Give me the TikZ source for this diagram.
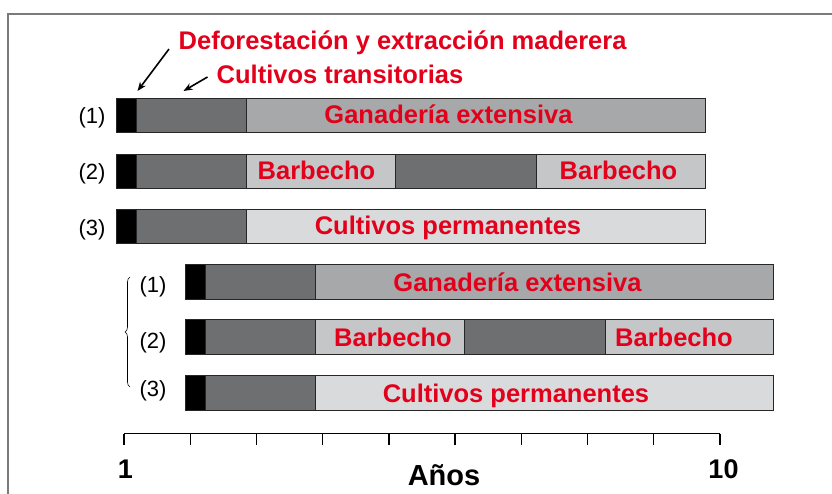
\documentclass[tikz,border=0pt]{standalone}
\usepackage{fontspec}
\setmainfont{Liberation Sans}
\usetikzlibrary{decorations.pathreplacing,arrows.meta}
\definecolor{redtxt}{HTML}{E3001B}
\definecolor{segblack}{HTML}{000000}
\definecolor{segdark}{HTML}{6E6F71}
\definecolor{segganad}{HTML}{A7A8AA}
\definecolor{segbarb}{HTML}{C5C6C8}
\definecolor{segperm}{HTML}{D9DADC}
\definecolor{framegray}{HTML}{7A7A7A}
\tikzset{
  segbox/.style={draw=black!85, line width=0.8pt, inner sep=0pt, outer sep=0pt, anchor=west},
  redlab/.style={text=redtxt, font=\fontsize{25.5}{30}\selectfont\bfseries, inner sep=0pt, anchor=base},
  numlab/.style={font=\fontsize{22}{26}\selectfont, inner sep=0pt, anchor=base},
  axlab/.style={font=\fontsize{27}{32}\selectfont\bfseries, inner sep=0pt, anchor=base},
  pointer/.style={line width=1.6pt, -{Stealth[length=9pt,width=7pt]}},
}
\newcommand\seg[6]{\node[segbox, fill=#6, minimum width=#3pt-#2pt, minimum height=#5pt] (#1) at (#2,#4) {};}
\begin{document}
\begin{tikzpicture}[x=1pt,y=-1pt]
\useasboundingbox (0,0) rectangle (832,494);
% frame
\draw[framegray, line width=2pt] (8,494) -- (8,14) -- (832,14);
% top labels
\node[redlab, anchor=base west] (defo) at (178.5,50) {Deforestación y extracción maderera};
\node[redlab, anchor=base west] (ctrans) at (216.5,83.5) {Cultivos transitorias};
\coordinate (a1s) at (169,49);
\coordinate (a1e) at (137.5,91);
\coordinate (a2s) at (207.5,77);
\coordinate (a2e) at (183.5,91);
\draw[pointer] (a1s) -- (a1e);
\draw[pointer] (a2s) -- (a2e);
% ---- top group ----
\foreach \r/\yc in {1/115,2/171,3/226}{
  \seg{tk\r}{116}{136}{\yc}{34}{segblack}
  \seg{td\r}{136}{246.5}{\yc}{34}{segdark}
}
\seg{tg1}{246.5}{705}{115}{34}{segganad}
\seg{tb2a}{246.5}{395.3}{171}{34}{segbarb}
\seg{tx2}{395.3}{536.7}{171}{34}{segdark}
\seg{tb2b}{536.7}{705}{171}{34}{segbarb}
\seg{tp3}{246.5}{705}{226}{34}{segperm}
\node[redlab] (tgt) at (448.5,124) {Ganadería extensiva};
\node[redlab] (tbt1) at (316.5,180) {Barbecho};
\node[redlab] (tbt2) at (618.5,180) {Barbecho};
\node[redlab] (tpt) at (448,235) {Cultivos permanentes};
\node[numlab] (tn1) at (92,124) {(1)};
\node[numlab] (tn2) at (92,180) {(2)};
\node[numlab] (tn3) at (92,235.5) {(3)};
% ---- bottom group ----
\foreach \r/\yc in {1/281.8,2/336.8,3/392.7}{
  \seg{bk\r}{185}{205}{\yc}{35}{segblack}
  \seg{bd\r}{205}{315.5}{\yc}{35}{segdark}
}
\seg{bg1}{315.5}{773.7}{281.8}{35}{segganad}
\seg{bb2a}{315.5}{464}{336.8}{35}{segbarb}
\seg{bx2}{464}{605.7}{336.8}{35}{segdark}
\seg{bb2b}{605.7}{773.7}{336.8}{35}{segbarb}
\seg{bp3}{315.5}{773.7}{392.7}{35}{segperm}
\node[redlab] (bgt) at (517.5,291) {Ganadería extensiva};
\node[redlab] (bbt1) at (393,346) {Barbecho};
\node[redlab] (bbt2) at (674,346) {Barbecho};
\node[redlab] (bpt) at (516,402) {Cultivos permanentes};
\node[numlab] (bn1) at (153,292.5) {(1)};
\node[numlab] (bn2) at (153,348) {(2)};
\node[numlab] (bn3) at (153,396.5) {(3)};
\draw[line width=0.6pt, decorate, decoration={brace, amplitude=5pt}] (130,387) -- (130,277);
% ---- axis ----
\draw[line width=1.4pt] (124,433.7) -- (720,433.7);
\foreach \i in {0,...,9}{
  \draw[line width=1.4pt] ({124+\i*596/9},433.7) -- ({124+\i*596/9},444.5);
}
\node[axlab] (one) at (125.5,478.5) {1};
\node[axlab] (ten) at (723.5,478.5) {10};
\node[axlab, font=\fontsize{29}{34}\selectfont\bfseries] (anos) at (444,485) {Años};
\end{tikzpicture}
\end{document}
